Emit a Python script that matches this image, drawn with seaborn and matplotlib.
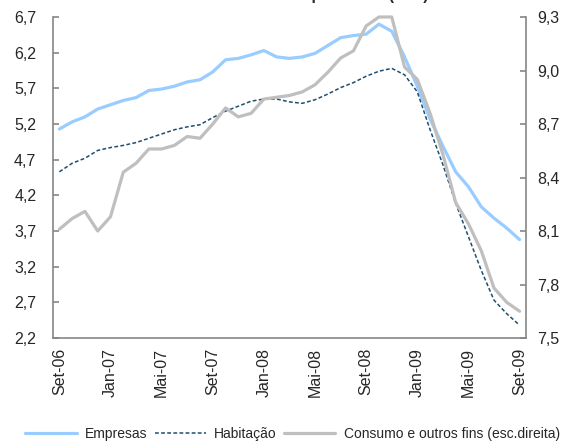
import pandas as pd
import numpy as np
import matplotlib
matplotlib.use("Agg")
import matplotlib.pyplot as plt
import seaborn as sns

sns.set_style("white")
plt.rcParams['font.family'] = ['Liberation Sans', 'DejaVu Sans']

# monthly data, Set-06 .. Set-09
empresas = [5.13, 5.23, 5.30, 5.41, 5.47, 5.53, 5.57, 5.67, 5.69, 5.73,
            5.79, 5.82, 5.93, 6.10, 6.12, 6.17, 6.23, 6.14, 6.12, 6.14,
            6.19, 6.30, 6.41, 6.44, 6.46, 6.60, 6.50, 6.14, 5.73, 5.27,
            4.89, 4.53, 4.32, 4.04, 3.88, 3.74, 3.58]
habitacao = [4.53, 4.65, 4.72, 4.83, 4.87, 4.90, 4.94, 5.00, 5.06, 5.12,
             5.16, 5.19, 5.29, 5.38, 5.45, 5.52, 5.55, 5.55, 5.51, 5.49,
             5.54, 5.62, 5.71, 5.78, 5.87, 5.94, 5.98, 5.89, 5.65, 5.12,
             4.63, 4.09, 3.62, 3.15, 2.73, 2.54, 2.38]
consumo = [8.11, 8.17, 8.21, 8.10, 8.18, 8.43, 8.48, 8.56, 8.56, 8.58,
           8.63, 8.62, 8.70, 8.79, 8.74, 8.76, 8.84, 8.85, 8.86, 8.88,
           8.92, 8.99, 9.07, 9.11, 9.25, 9.30, 9.30, 9.02, 8.95, 8.76,
           8.53, 8.26, 8.14, 7.99, 7.78, 7.70, 7.65]
tick_labels = ['Set-06', 'Jan-07', 'Mai-07', 'Set-07', 'Jan-08', 'Mai-08',
               'Set-08', 'Jan-09', 'Mai-09', 'Set-09']

df = pd.DataFrame({'mes': range(len(empresas)), 'Empresas': empresas,
                   'Habitação': habitacao, 'Consumo': consumo})

fig = plt.figure(figsize=(5.66, 4.45), dpi=100)
ax = fig.add_axes([0.0936, 0.2404, 0.8357, 0.7214])
ax2 = ax.twinx()

sns.lineplot(data=df, x='mes', y='Empresas', ax=ax, color='#99CCFF', lw=2.3,
             label='Empresas', legend=False)
sns.lineplot(data=df, x='mes', y='Habitação', ax=ax, color='#1F4E6E', lw=1.1,
             ls=(0, (2.5, 1.5)), label='Habitação', legend=False)
sns.lineplot(data=df, x='mes', y='Consumo', ax=ax2, color='#BFBFBF', lw=2.3,
             label='Consumo e outros fins (esc.direita)', legend=False, clip_on=False)

ax.set_xlim(-0.5, len(empresas) - 0.5)
ax.set_ylim(2.2, 6.7)
ax2.set_ylim(7.5, 9.3)
ax.set_yticks(np.arange(2.2, 6.71, 0.5))
ax.set_yticklabels([f"{v:.1f}".replace('.', ',') for v in np.arange(2.2, 6.71, 0.5)])
ax2.set_yticks(np.arange(7.5, 9.31, 0.3))
ax2.set_yticklabels([f"{v:.1f}".replace('.', ',') for v in np.arange(7.5, 9.31, 0.3)])

ax.set_xticks(range(0, len(empresas), 4))
ax.set_xticklabels(tick_labels, rotation=90)
ax.set_xticks(np.arange(-0.5, len(empresas), 4), minor=True)
ax.tick_params(axis='x', which='major', length=0, pad=7, labelsize=11.5)
ax.tick_params(axis='x', which='minor', direction='in', length=4, width=1.2, color='#868686')
ax.tick_params(axis='y', direction='in', length=4, width=1.2, color='#868686', pad=12, labelsize=11.5)
ax2.tick_params(axis='y', direction='in', length=4, width=1.2, color='#868686', pad=8, labelsize=11.5)

for a in (ax, ax2):
    a.set_xlabel('')
    a.set_ylabel('')
    for s in a.spines.values():
        s.set_visible(False)
ax.spines['left'].set_visible(True)
ax.spines['bottom'].set_visible(True)
ax2.spines['right'].set_visible(True)
for s in (ax.spines['left'], ax.spines['bottom'], ax2.spines['right']):
    s.set_color('#868686')
    s.set_linewidth(1.2)

# title is mostly above the visible area, as in the original
fig.text(0.756, 1.0, 'Taxa de novos empréstimos (TAE)', ha='right', va='baseline',
         fontsize=11, fontweight='bold')

h1, l1 = ax.get_legend_handles_labels()
h2, l2 = ax2.get_legend_handles_labels()
fig.legend(h1 + h2, l1 + l2, loc='center', bbox_to_anchor=(0.517, 0.024), ncol=3,
           frameon=False, fontsize=10, handlelength=3.7, handletextpad=0.6,
           columnspacing=0.5)

fig.savefig('out.png', dpi=100)
